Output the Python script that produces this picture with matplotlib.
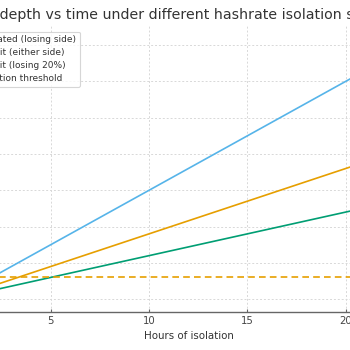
import matplotlib
matplotlib.use("Agg")
import matplotlib.pyplot as plt
import numpy as np

hours = [0, 24]
fully_isolated = [0, 72]
split_50 = [0, 43.2]
split_80_20 = [0, 28.8]
threshold = 6

labels = ["Fully isolated (losing side)", "50/50 split (either side)",
          "80/20 split (losing 20%)", "Confirmation threshold"]
title = "Reorg depth vs time under different hashrate isolation scenarios"

fig = plt.figure(figsize=(3.5, 3.5), dpi=100)
W = 350.0
ax = fig.add_axes([-71.3 / W, 1 - 312.3 / W, 519.5 / W, (312.3 - 24.6) / W])

ax.plot(hours, fully_isolated, color="#56B4E9", lw=1.2, label=labels[0])
ax.plot(hours, split_50, color="#E69F00", lw=1.2, label=labels[1])
ax.plot(hours, split_80_20, color="#009E73", lw=1.2, label=labels[2])
ax.axhline(threshold, color="#E69F00", lw=1.2, ls=(0, (4, 2.5)), label=labels[3])

ax.set_xlim(-1.2, 25.2)
ax.set_ylim(-3.6, 75.6)
ax.set_xticks([0, 5, 10, 15, 20])
ax.set_yticks(np.arange(0, 80, 10))
ax.grid(True, color="#d8d8d8", ls=(0, (2, 2)), lw=0.7)
for s in ["top", "right", "left"]:
    ax.spines[s].set_visible(False)
ax.spines["bottom"].set_color("#666666")
ax.spines["bottom"].set_linewidth(1.0)
ax.tick_params(axis="x", direction="in", length=2.5, width=0.8, color="#666666",
               labelsize=7.3, labelcolor="#444444", pad=3)
ax.tick_params(axis="y", length=0, labelleft=False)
ax.set_xlabel("Hours of isolation", fontsize=7.4, color="#333333", labelpad=3)
ax.set_title(title, fontsize=10.2, color="#333333", pad=4, x=0.4905)
leg = ax.legend(loc="upper right", bbox_to_anchor=(79.5 / W, 1 - 31.5 / W),
                bbox_transform=fig.transFigure, borderaxespad=0, fontsize=6.5,
                labelspacing=0.45, frameon=True, edgecolor="#cccccc", fancybox=True,
                labelcolor="#333333")
leg.get_frame().set_linewidth(0.8)

fig.savefig("out.png", dpi=100)
